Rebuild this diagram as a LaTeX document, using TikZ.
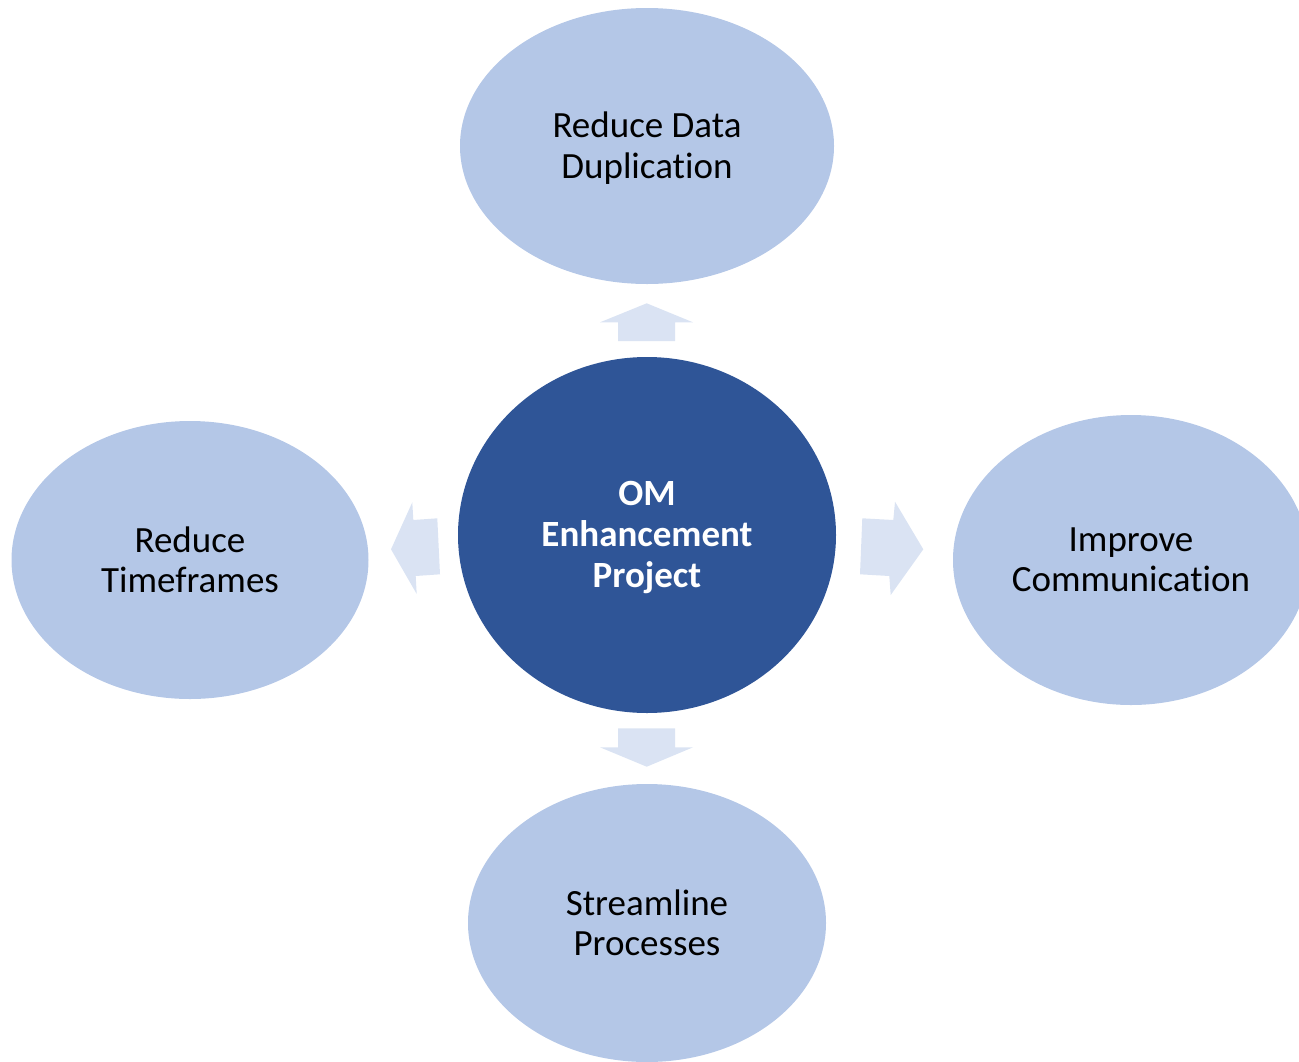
\documentclass[tikz,border=0pt]{standalone}
\usepackage{fontspec}
\setmainfont[Ligatures=NoCommon]{Carlito}
\usetikzlibrary{shapes.geometric}
\definecolor{lightblob}{HTML}{B4C7E7}
\definecolor{darkblob}{HTML}{2F5597}
\definecolor{arrowfill}{HTML}{DAE3F3}
\begin{document}
\begin{tikzpicture}[x=1pt,y=-1pt,
  outer/.style={ellipse,fill=lightblob,draw=none,inner sep=0pt},
  inner/.style={ellipse,fill=darkblob,draw=none,inner sep=0pt},
  outertext/.style={align=center,font=\fontsize{37}{40.5}\selectfont,text=black},
  innertext/.style={align=center,font=\fontsize{37}{41}\selectfont\bfseries,text=white},
  blockarrow/.style={fill=arrowfill,draw=none}]
\useasboundingbox (0,0) rectangle (1299,1061);
\begin{scope}
\clip (0,0) rectangle (1299,1061);
\node[outer,minimum width=374pt,minimum height=276pt] (top) at (647,146) {};
\node[inner,minimum width=378pt,minimum height=356pt] (center) at (647,535) {};
\node[outer,minimum width=357pt,minimum height=278pt] (left) at (190,560) {};
\node[outer,minimum width=356pt,minimum height=290pt] (right) at (1131,560) {};
\node[outer,minimum width=358pt,minimum height=278pt] (bottom) at (647,923) {};
\end{scope}
\node[outertext] (toptext) at ([yshift=-2pt]top) {Reduce Data\\Duplication};
\node[innertext] (centertext) at ([yshift=-2pt]center) {OM\\Enhancement\\Project};
\node[outertext] (lefttext) at (left) {Reduce\\Timeframes};
\node[outertext] (righttext) at (right) {Improve\\Communication};
\node[outertext] (bottomtext) at (bottom) {Streamline\\Processes};
% block arrows
\fill[blockarrow] (618,341) -- (618,322.3) -- (600,322.3) -- (646.7,303.3) -- (693,322.3) -- (675,322.3) -- (675,341) -- cycle;
\fill[blockarrow] (618,728.3) -- (618,747.3) -- (600,747.3) -- (646.7,766.7) -- (693,747.3) -- (675,747.3) -- (675,728.3) -- cycle;
\fill[blockarrow] (437.3,518.3) -- (413.3,520) -- (412.3,502.3) -- (391,549.3) -- (416.7,594) -- (415.7,576) -- (440,574.3) -- cycle;
\fill[blockarrow] (862.3,518.3) -- (893.3,520) -- (895,501.7) -- (923.3,549.3) -- (890.7,595) -- (889.3,576) -- (860,574.3) -- cycle;
\end{tikzpicture}
\end{document}
